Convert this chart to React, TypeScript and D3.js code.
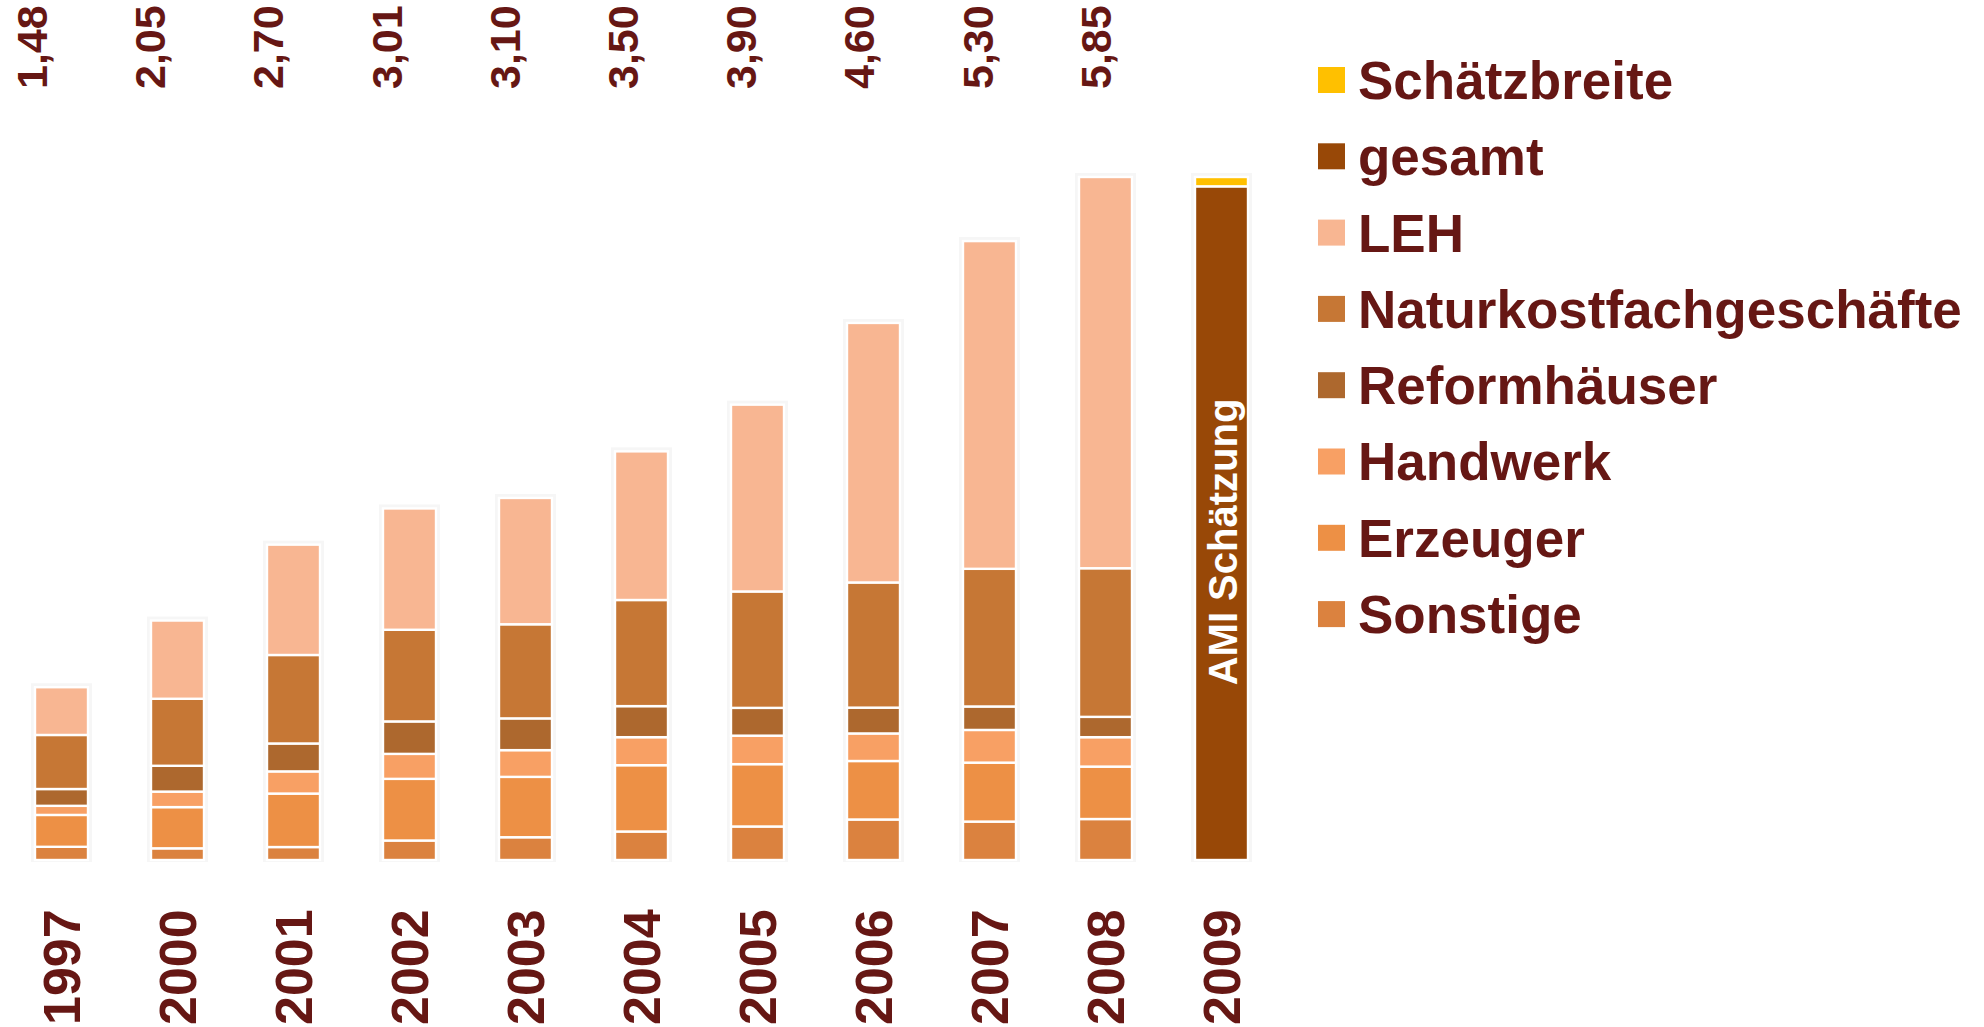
import React, { useEffect, useRef } from "react";
import * as d3 from "d3";

const years = ["1997", "2000", "2001", "2002", "2003", "2004", "2005", "2006", "2007", "2008", "2009"];
const totalLabels = ["1,48", "2,05", "2,70", "3,01", "3,10", "3,50", "3,90", "4,60", "5,30", "5,85"];

// Umsatz in Mrd. Euro
const sonstige = [0.113, 0.1, 0.111, 0.167, 0.195, 0.244, 0.287, 0.347, 0.329, 0.351, 0];
const erzeuger = [0.273, 0.353, 0.458, 0.528, 0.517, 0.568, 0.534, 0.501, 0.505, 0.449, 0];
const handwerk = [0.078, 0.133, 0.19, 0.214, 0.229, 0.24, 0.244, 0.236, 0.28, 0.252, 0];
const reform = [0.144, 0.221, 0.239, 0.278, 0.272, 0.266, 0.238, 0.221, 0.201, 0.174, 0];
const naturkost = [0.463, 0.574, 0.758, 0.785, 0.806, 0.909, 0.997, 1.072, 1.179, 1.273, 0];
const leh = [0.409, 0.67, 0.945, 1.039, 1.082, 1.273, 1.6, 2.223, 2.807, 3.351, 0];
const gesamt = [0, 0, 0, 0, 0, 0, 0, 0, 0, 0, 5.77];
const schaetzbreite = [0, 0, 0, 0, 0, 0, 0, 0, 0, 0, 0.08];

const seriesKeys = ["Sonstige", "Erzeuger", "Handwerk", "Reformhäuser", "Naturkostfachgeschäfte", "LEH", "gesamt", "Schätzbreite"];
const seriesValues = [sonstige, erzeuger, handwerk, reform, naturkost, leh, gesamt, schaetzbreite];
const seriesColors = ["#db823f", "#ed9045", "#f8a064", "#ad682e", "#c67735", "#f8b692", "#984807", "#ffc000"];

const legendOrder = ["Schätzbreite", "gesamt", "LEH", "Naturkostfachgeschäfte", "Reformhäuser", "Handwerk", "Erzeuger", "Sonstige"];

const TEXT = "#661714";
const FONT = "'Liberation Sans', Arial, sans-serif";

const App = () => {
    const svgRef = useRef<SVGSVGElement>(null);

    useEffect(() => {
        const width = 1984;
        const height = 1027;
        const svg = d3.select(svgRef.current).attr("width", width).attr("height", height);
        svg.selectAll("*").remove();

        const rows = years.map((y, i) => {
            const row: any = { year: y };
            seriesKeys.forEach((k, j) => (row[k] = seriesValues[j][i]));
            return row;
        });
        const stacked = d3.stack().keys(seriesKeys)(rows);
        const color = d3.scaleOrdinal<string>().domain(seriesKeys).range(seriesColors);

        const x = d3
            .scaleBand()
            .domain(years)
            .range([3.5, 3.5 + 116 * years.length])
            .paddingInner(63 / 116)
            .paddingOuter(63 / 232);
        const y = d3.scaleLinear().domain([0, 5.85]).range([860, 177]);

        const g = svg.append("g");

        // faint frame behind each bar
        g.selectAll(".frame")
            .data(rows)
            .join("rect")
            .attr("class", "frame")
            .attr("x", (d) => x(d.year)! - 4)
            .attr("width", x.bandwidth() + 8)
            .attr("y", (d) => {
                const total = seriesKeys.reduce((s, k) => s + d[k], 0);
                return y(total) - 4;
            })
            .attr("height", (d) => {
                const total = seriesKeys.reduce((s, k) => s + d[k], 0);
                return y(0) - y(total) + 6;
            })
            .attr("fill", "#f6f6f6");

        // stacked segments
        g.selectAll(".layer")
            .data(stacked)
            .join("g")
            .attr("class", "layer")
            .attr("fill", (d) => color(d.key))
            .selectAll("rect")
            .data((d) => d.filter((p) => p[1] - p[0] > 0))
            .join("rect")
            .attr("x", (d: any) => x(d.data.year)!)
            .attr("width", x.bandwidth())
            .attr("y", (d) => y(d[1]))
            .attr("height", (d) => y(d[0]) - y(d[1]))
            .attr("stroke", "#ffffff")
            .attr("stroke-width", 2.4);

        // totals row at top
        const xl = d3.scalePoint().domain(totalLabels.map((_, i) => years[i])).range([31.5, 1095.3]);
        g.selectAll(".total")
            .data(totalLabels)
            .join("text")
            .attr("class", "total")
            .attr("transform", (d, i) => `translate(${xl(years[i])},89) rotate(-90)`)
            .attr("dy", "0.358em")
            .attr("font-family", FONT)
            .attr("font-weight", "bold")
            .attr("font-size", 43)
            .attr("fill", TEXT)
            .text((d) => d);

        // year labels
        g.selectAll(".year")
            .data(years)
            .join("text")
            .attr("class", "year")
            .attr("transform", (d) => `translate(${x(d)! + x.bandwidth() / 2},1025) rotate(-90)`)
            .attr("dy", "0.358em")
            .attr("font-family", FONT)
            .attr("font-weight", "bold")
            .attr("font-size", 52)
            .attr("fill", TEXT)
            .text((d) => d);

        // label inside the estimate bar
        g.append("text")
            .attr("transform", `translate(${x("2009")! + x.bandwidth() / 2 + 1},542) rotate(-90)`)
            .attr("text-anchor", "middle")
            .attr("dy", "0.358em")
            .attr("font-family", FONT)
            .attr("font-weight", "bold")
            .attr("font-size", 40)
            .attr("fill", "#ffffff")
            .text("AMI Schätzung");

        // legend
        const legend = g
            .selectAll(".legend")
            .data(legendOrder)
            .join("g")
            .attr("class", "legend")
            .attr("transform", (d, i) => `translate(1318,${80 + i * 76.3})`);
        legend
            .append("rect")
            .attr("x", 0)
            .attr("y", -13)
            .attr("width", 27)
            .attr("height", 26)
            .attr("fill", (d) => color(d));
        legend
            .append("text")
            .attr("x", 40)
            .attr("dy", "0.358em")
            .attr("font-family", FONT)
            .attr("font-weight", "bold")
            .attr("font-size", 53)
            .attr("fill", TEXT)
            .text((d) => d);
    }, []);

    return (
        <div style={{ position: "absolute", left: 0, top: 0, background: "#ffffff" }}>
            <svg ref={svgRef} style={{ display: "block" }}></svg>
        </div>
    );
};

export default App;
